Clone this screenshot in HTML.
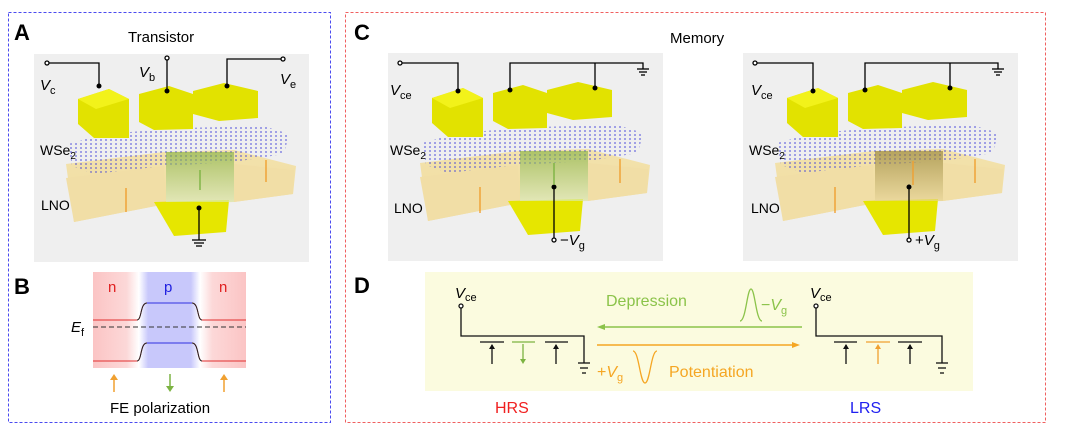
<!DOCTYPE html>
<html><head><meta charset="utf-8"><style>
html,body{margin:0;padding:0;background:#fff;}
svg{display:block;font-family:"Liberation Sans",sans-serif;}
</style></head><body>
<svg width="1080" height="434" viewBox="0 0 1080 434" xmlns="http://www.w3.org/2000/svg">
<defs>
<pattern id="dots" width="5" height="4" patternUnits="userSpaceOnUse"><circle cx="2" cy="2" r="0.9" fill="#3a3ad8"/></pattern>
<linearGradient id="gslab" x1="0" y1="0" x2="0" y2="1"><stop offset="0" stop-color="#f3e2ad"/><stop offset="1" stop-color="#f0dc9c"/></linearGradient>
<linearGradient id="ggreen" x1="0" y1="0" x2="0" y2="1"><stop offset="0" stop-color="#7fae3a"/><stop offset="1" stop-color="#d8ecc4"/></linearGradient>
<linearGradient id="gdark" x1="0" y1="0" x2="0" y2="1"><stop offset="0" stop-color="#8d7a2a"/><stop offset="1" stop-color="#e6d49a"/></linearGradient>
<linearGradient id="bandB" x1="0" y1="0" x2="1" y2="0">
<stop offset="0" stop-color="#fbc4c4"/><stop offset="0.22" stop-color="#fcd8d8"/><stop offset="0.3" stop-color="#ffffff"/><stop offset="0.36" stop-color="#c8c8fb"/><stop offset="0.64" stop-color="#c8c8fb"/><stop offset="0.7" stop-color="#ffffff"/><stop offset="0.78" stop-color="#fcd8d8"/><stop offset="1" stop-color="#fbc4c4"/></linearGradient>
<g id="dev">
<rect x="0" y="0" width="275" height="208" fill="#efefef"/>
<polygon points="32,110 130,98 200,96 262,112 259,140 200,148 132,150 40,168" fill="url(#gslab)"/>
<polygon points="32,124 130,112 132,150 40,168" fill="#f1dea6"/>
<polygon points="200,110 260,116 259,140 200,148" fill="#f1dea6"/>
<polygon points="120,148 195,146 192,178 140,182" fill="#e6e600"/>
<polygon points="34,90 70,80 150,74 230,72 255,80 250,100 200,108 130,112 60,120 38,112" fill="url(#dots)" opacity="0.75"/>
<polygon points="44,45 75,35 95,45 95,84 60,84 44,70" fill="#e2e200"/>
<polygon points="44,45 75,35 95,45 62,55" fill="#f2f21a"/>
<polygon points="105,40 135,32 159,40 159,75 120,76 105,68" fill="#e2e200"/>
<polygon points="159,37 190,29 224,37 224,64 185,67 159,60" fill="#e2e200"/>
</g>
</defs>

<rect x="8.5" y="12.5" width="322" height="410" fill="none" stroke="#4a4af0" stroke-dasharray="3,2" stroke-width="1"/>
<rect x="345.5" y="12.5" width="700" height="410" fill="none" stroke="#f06060" stroke-dasharray="3,2" stroke-width="1"/>

<text x="14" y="40" font-size="22" font-weight="bold">A</text>
<text x="128" y="42" font-size="15">Transistor</text>
<text x="354" y="40" font-size="22" font-weight="bold">C</text>
<text x="670" y="43" font-size="15">Memory</text>
<text x="14" y="294" font-size="22" font-weight="bold">B</text>
<text x="354" y="293" font-size="22" font-weight="bold">D</text>

<g transform="translate(34,54)">
<use href="#dev"/>
<g stroke="#000" stroke-width="1.3" fill="none">
<circle cx="13" cy="9" r="2" fill="#fff"/><polyline points="15,9 65,9 65,32"/>
<circle cx="133" cy="4" r="2" fill="#fff"/><line x1="133" y1="6" x2="133" y2="37"/>
<circle cx="249" cy="5" r="2" fill="#fff"/><polyline points="247,5 193,5 193,32"/>
<line x1="165" y1="154" x2="165" y2="186"/><line x1="158" y1="186" x2="172" y2="186"/><line x1="160" y1="189" x2="170" y2="189"/><line x1="162" y1="192" x2="168" y2="192"/>
</g>
<circle cx="65" cy="32" r="2.5"/><circle cx="133" cy="37" r="2.5"/><circle cx="193" cy="32" r="2.5"/><circle cx="165" cy="154" r="2.5"/>
<rect x="132" y="98" width="68" height="50" fill="url(#ggreen)" opacity="0.6"/>
<g stroke-width="1.4"><line x1="92" y1="158" x2="92" y2="134" stroke="#f0a030"/><line x1="232" y1="128" x2="232" y2="106" stroke="#f0a030"/><line x1="166" y1="116" x2="166" y2="136" stroke="#7cb342"/></g>
<text x="6" y="36" font-size="15" font-style="italic">V<tspan font-size="11" dy="4" font-style="normal">c</tspan></text>
<text x="105" y="23" font-size="15" font-style="italic">V<tspan font-size="11" dy="4" font-style="normal">b</tspan></text>
<text x="246" y="30" font-size="15" font-style="italic">V<tspan font-size="11" dy="4" font-style="normal">e</tspan></text>
<text x="6" y="101" font-size="14">WSe<tspan font-size="10" dy="4">2</tspan></text>
<text x="7" y="156" font-size="14">LNO</text>
</g>

<rect x="93" y="272" width="153" height="96" fill="url(#bandB)"/>
<g fill="none" stroke-width="1">
<path d="M93,320 H137 C142,320 140,303 147,303 H192 C199,303 197,320 202,320 H246" stroke="#e03030"/>
<path d="M93,361 H137 C142,361 140,343 147,343 H192 C199,343 197,361 202,361 H246" stroke="#e03030"/>
<path d="M137,320 C142,320 140,303 147,303 M192,303 C199,303 197,320 202,320 M137,361 C142,361 140,343 147,343 M192,343 C199,343 197,361 202,361" stroke="#222"/>
<line x1="147" y1="303" x2="192" y2="303" stroke="#3030e0"/><line x1="147" y1="343" x2="192" y2="343" stroke="#3030e0"/>
<line x1="93" y1="327" x2="246" y2="327" stroke="#333" stroke-dasharray="5,3"/>
</g>
<text x="108" y="292" font-size="15" fill="#e02020">n</text>
<text x="164" y="292" font-size="15" fill="#2020e0">p</text>
<text x="219" y="292" font-size="15" fill="#e02020">n</text>
<text x="71" y="332" font-size="15" font-style="italic">E<tspan font-size="11" dy="4" font-style="normal">f</tspan></text>
<g stroke-width="1.5">
<line x1="114" y1="392" x2="114" y2="377" stroke="#f0a030"/><polygon points="110,380 114,374 118,380" fill="#f0a030"/>
<line x1="170" y1="374" x2="170" y2="389" stroke="#7cb342"/><polygon points="166,386 170,392 174,386" fill="#7cb342"/>
<line x1="224" y1="392" x2="224" y2="377" stroke="#f0a030"/><polygon points="220,380 224,374 228,380" fill="#f0a030"/>
</g>
<text x="110" y="413" font-size="15">FE polarization</text>

<g transform="translate(388,53)">
<use href="#dev"/>
<rect x="132" y="98" width="68" height="50" fill="url(#ggreen)" opacity="0.6"/>
<g stroke="#000" stroke-width="1.3" fill="none">
<circle cx="12" cy="10" r="2" fill="#fff"/><polyline points="14,10 70,10 70,38"/>
<polyline points="122,37 122,10 255,10 255,16"/><line x1="207" y1="10" x2="207" y2="35"/>
<line x1="249" y1="16" x2="261" y2="16"/><line x1="251" y1="19" x2="259" y2="19"/><line x1="253" y1="22" x2="257" y2="22"/>
<line x1="166" y1="134" x2="166" y2="185"/><circle cx="166" cy="187" r="2" fill="#fff"/>
</g>
<circle cx="70" cy="38" r="2.5"/><circle cx="122" cy="37" r="2.5"/><circle cx="207" cy="35" r="2.5"/><circle cx="166" cy="134" r="2.5"/>
<g stroke-width="1.4"><line x1="92" y1="160" x2="92" y2="134" stroke="#f0a030"/><line x1="232" y1="130" x2="232" y2="106" stroke="#f0a030"/><line x1="166" y1="110" x2="166" y2="132" stroke="#7cb342"/></g>
<text x="2" y="42" font-size="15" font-style="italic">V<tspan font-size="11" dy="4" font-style="normal">ce</tspan></text>
<text x="2" y="102" font-size="14">WSe<tspan font-size="10" dy="4">2</tspan></text>
<text x="6" y="160" font-size="14">LNO</text>
<text x="172" y="192" font-size="15">−<tspan font-style="italic">V</tspan><tspan font-size="11" dy="4">g</tspan></text>
</g>
<g transform="translate(743,53)">
<use href="#dev"/>
<rect x="132" y="98" width="68" height="50" fill="url(#gdark)" opacity="0.6"/>
<g stroke="#000" stroke-width="1.3" fill="none">
<circle cx="12" cy="10" r="2" fill="#fff"/><polyline points="14,10 70,10 70,38"/>
<polyline points="122,37 122,10 255,10 255,16"/><line x1="207" y1="10" x2="207" y2="35"/>
<line x1="249" y1="16" x2="261" y2="16"/><line x1="251" y1="19" x2="259" y2="19"/><line x1="253" y1="22" x2="257" y2="22"/>
<line x1="166" y1="134" x2="166" y2="185"/><circle cx="166" cy="187" r="2" fill="#fff"/>
</g>
<circle cx="70" cy="38" r="2.5"/><circle cx="122" cy="37" r="2.5"/><circle cx="207" cy="35" r="2.5"/><circle cx="166" cy="134" r="2.5"/>
<g stroke-width="1.4"><line x1="92" y1="160" x2="92" y2="134" stroke="#f0a030"/><line x1="232" y1="130" x2="232" y2="106" stroke="#f0a030"/><line x1="170" y1="132" x2="170" y2="108" stroke="#f0a030"/></g>
<text x="8" y="42" font-size="15" font-style="italic">V<tspan font-size="11" dy="4" font-style="normal">ce</tspan></text>
<text x="6" y="102" font-size="14">WSe<tspan font-size="10" dy="4">2</tspan></text>
<text x="8" y="160" font-size="14">LNO</text>
<text x="172" y="192" font-size="15">+<tspan font-style="italic">V</tspan><tspan font-size="11" dy="4">g</tspan></text>
</g>

<rect x="425" y="272" width="548" height="119" fill="#fbfbdf"/>
<g stroke="#111" stroke-width="1.3" fill="none">
<circle cx="461" cy="306" r="2" fill="#fff"/>
<polyline points="461,308 461,336 584,336 584,363"/>
<line x1="578" y1="363" x2="590" y2="363"/><line x1="580" y1="368" x2="588" y2="368"/><line x1="582" y1="373" x2="586" y2="373"/>
<line x1="480" y1="342" x2="504" y2="342"/><line x1="492" y1="345" x2="492" y2="364"/><polygon points="489,349 492,344 495,349" fill="#111" stroke="none"/>
<line x1="545" y1="342" x2="568" y2="342"/><line x1="556" y1="345" x2="556" y2="364"/><polygon points="553,349 556,344 559,349" fill="#111" stroke="none"/>
<circle cx="816" cy="306" r="2" fill="#fff"/>
<polyline points="816,308 816,336 942,336 942,363"/>
<line x1="936" y1="363" x2="948" y2="363"/><line x1="938" y1="368" x2="946" y2="368"/><line x1="940" y1="373" x2="944" y2="373"/>
<line x1="834" y1="342" x2="857" y2="342"/><line x1="846" y1="345" x2="846" y2="364"/><polygon points="843,349 846,344 849,349" fill="#111" stroke="none"/>
<line x1="898" y1="342" x2="922" y2="342"/><line x1="910" y1="345" x2="910" y2="364"/><polygon points="907,349 910,344 913,349" fill="#111" stroke="none"/>
</g>
<line x1="512" y1="342" x2="535" y2="342" stroke="#7cb342" stroke-width="1.3"/><line x1="523" y1="344" x2="523" y2="361" stroke="#7cb342" stroke-width="1.3"/><polygon points="520,359 523,364 526,359" fill="#7cb342"/>
<line x1="866" y1="342" x2="890" y2="342" stroke="#f0a030" stroke-width="1.3"/><line x1="878" y1="347" x2="878" y2="364" stroke="#f0a030" stroke-width="1.3"/><polygon points="875,349 878,344 881,349" fill="#f0a030"/>
<line x1="600" y1="327" x2="802" y2="327" stroke="#8bc34a" stroke-width="1.5"/><polygon points="597,327 605,324 605,330" fill="#8bc34a"/>
<line x1="597" y1="345" x2="796" y2="345" stroke="#f5a623" stroke-width="1.5"/><polygon points="800,345 792,342 792,348" fill="#f5a623"/>
<text x="606" y="306" font-size="16" fill="#8bc34a">Depression</text>
<path d="M740,321 C746,321 747,289 751,289 C755,289 756,321 762,321" fill="none" stroke="#8bc34a" stroke-width="1.3"/>
<text x="761" y="310" font-size="16" fill="#8bc34a">−<tspan font-style="italic">V</tspan><tspan font-size="11" dy="4">g</tspan></text>
<text x="597" y="377" font-size="16" fill="#f5a623">+<tspan font-style="italic">V</tspan><tspan font-size="11" dy="4">g</tspan></text>
<path d="M633,351 C639,351 640,383 645,383 C650,383 651,351 657,351" fill="none" stroke="#f5a623" stroke-width="1.3"/>
<text x="669" y="377" font-size="16" fill="#f5a623">Potentiation</text>
<text x="455" y="298" font-size="15" font-style="italic">V<tspan font-size="11" dy="3" font-style="normal">ce</tspan></text>
<text x="810" y="298" font-size="15" font-style="italic">V<tspan font-size="11" dy="3" font-style="normal">ce</tspan></text>
<text x="495" y="413" font-size="16" fill="#f02020">HRS</text>
<text x="850" y="413" font-size="16" fill="#2020f0">LRS</text>
</svg>
</body></html>
